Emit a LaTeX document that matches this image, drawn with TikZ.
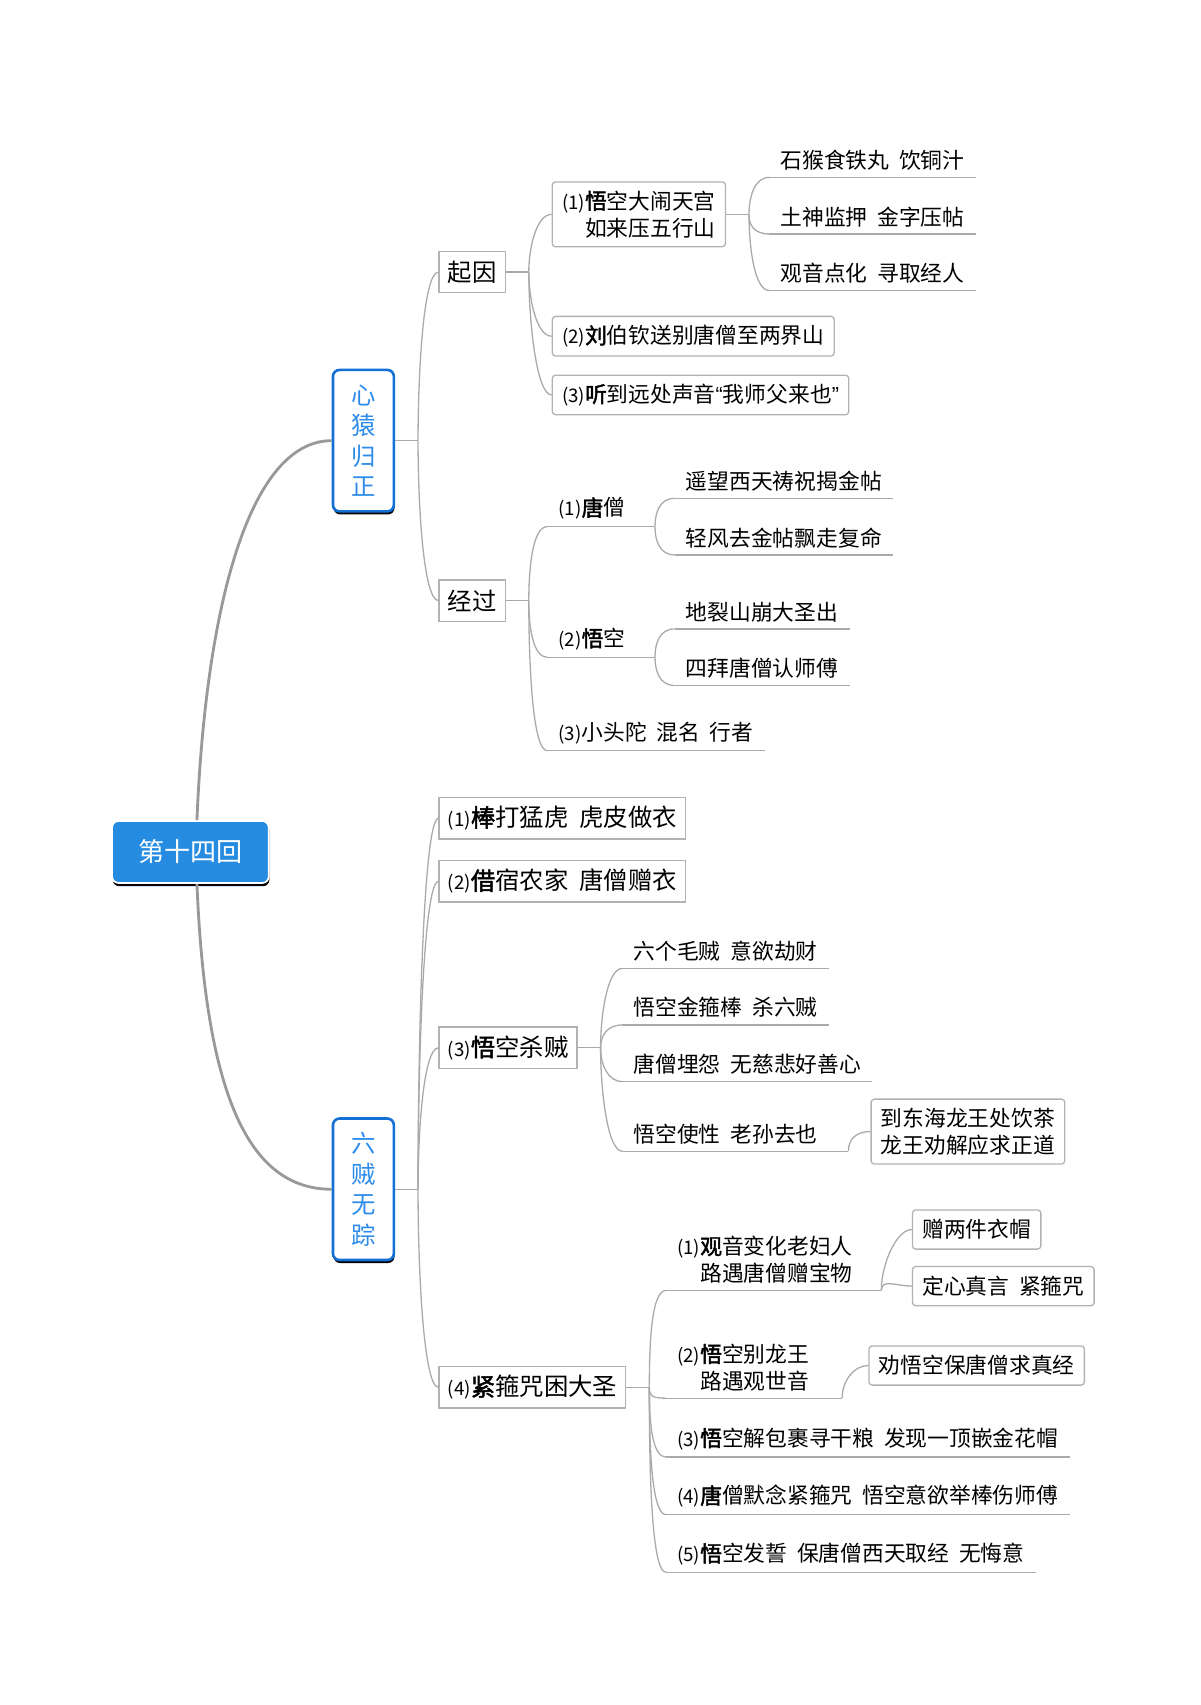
\documentclass[tikz,border=0pt]{standalone}
\usepackage{fontspec}
\setmainfont{Noto Sans CJK SC}[WordSpace=2]
\newfontfamily\latq{Liberation Sans}
\usepackage{tikz}
\usetikzlibrary{shadows}
\definecolor{rootblue}{RGB}{38,140,226}
\definecolor{mainblue}{RGB}{20,112,212}
\definecolor{txtblue}{RGB}{45,140,235}
\definecolor{linegray}{RGB}{170,170,170}
\newcommand{\nr}[1]{{\fontsize{8.6}{10}\selectfont(#1)}}
\newcommand{\bz}[1]{{\addfontfeatures{FakeBold=2}#1}}

\begin{document}
\begin{tikzpicture}[x=0.5pt,y=-0.5pt,
  conn/.style={draw=linegray,line width=0.6pt},
  brup/.style={conn,out=90,in=180,in distance=7pt},
  brdn/.style={conn,out=-90,in=180,in distance=7pt},
  trunk/.style={draw=black!40,line width=1.3pt},
  rootbox/.style={fill=rootblue,draw=white,line width=0.8pt,rounded corners=3pt,text=white,
    minimum width=72pt,minimum height=28.5pt,font=\fontsize{12}{14}\selectfont,
    drop shadow={shadow xshift=0.3pt,shadow yshift=-1.5pt,fill=black,opacity=1}},
  mainbox/.style={draw=mainblue,fill=white,line width=1.2pt,rounded corners=3pt,text=txtblue,
    minimum width=28pt,minimum height=65pt,align=center,font=\fontsize{11.2}{14}\selectfont,
    drop shadow={shadow xshift=0.3pt,shadow yshift=-1.4pt,fill=black,opacity=1}},
  topic/.style={draw=black!30,line width=0.6pt,anchor=west,minimum height=19pt,inner xsep=4pt,
    font=\fontsize{11.2}{13}\selectfont},
  item/.style={draw=black!30,line width=0.6pt,rounded corners=1.5pt,anchor=west,minimum height=18pt,
    inner xsep=4.5pt,inner ysep=4pt,font=\fontsize{10}{12.5}\selectfont},
  leaf/.style={anchor=south west,inner xsep=5pt,inner ysep=3pt,font=\fontsize{10}{12.5}\selectfont},
]
\useasboundingbox (0,0) rectangle (1103,1567);

% main topics
\node[rootbox] (root) at (175,783) {第十四回};
\node[mainbox] (xy) at (334,405) {心\\猿\\归\\正};
\node[mainbox] (lz) at (334,1093) {六\\贼\\无\\踪};

% 心猿归正
\node[topic] (qy) at (403,250) {起因};
\node[topic] (jg) at (403,552) {经过};

\node[item,align=right] (a1) at (507,197) {\nr{1}\bz{悟}空大闹天宫\\如来压五行山};
\node[item] (a2) at (507,309) {\nr{2}\bz{刘}伯钦送别唐僧至两界山};
\node[item] (a3) at (507,363) {\nr{3}\bz{听}到远处声音{\latq “}我师父来也{\latq ”}};
\node[leaf] (l1) at (707,163) {石猴食铁丸 饮铜汁};
\node[leaf] (l2) at (707,215) {土神监押 金字压帖};
\node[leaf] (l3) at (707,267) {观音点化 寻取经人};

\node[leaf] (b1) at (503,484) {\nr{1}\bz{唐}僧};
\node[leaf] (b11) at (620,458) {遥望西天祷祝揭金帖};
\node[leaf] (b12) at (620,510) {轻风去金帖飘走复命};
\node[leaf] (b2) at (503,604) {\nr{2}\bz{悟}空};
\node[leaf] (b21) at (620,578) {地裂山崩大圣出};
\node[leaf] (b22) at (620,630) {四拜唐僧认师傅};
\node[leaf] (b3) at (503,690) {\nr{3}小头陀 混名 行者};

% 六贼无踪
\node[topic] (c1) at (403,752) {\nr{1}\bz{棒}打猛虎 虎皮做衣};
\node[topic] (c2) at (403,810) {\nr{2}\bz{借}宿农家 唐僧赠衣};
\node[topic] (c3) at (403,963) {\nr{3}\bz{悟}空杀贼};
\node[topic] (c4) at (403,1275) {\nr{4}\bz{紧}箍咒困大圣};

\node[leaf] (c31) at (572,890) {六个毛贼 意欲劫财};
\node[leaf] (c32) at (572,942) {悟空金箍棒 杀六贼};
\node[leaf] (c33) at (572,994) {唐僧埋怨 无慈悲好善心};
\node[leaf] (c34) at (572,1058) {悟空使性 老孙去也};
\node[item,align=left] (c341) at (800,1040) {到东海龙王处饮茶\\龙王劝解应求正道};

\node[leaf,align=right] (d1) at (612,1186) {\nr{1}\bz{观}音变化老妇人\\路遇唐僧赠宝物};
\node[item] (d11) at (838,1130) {赠两件衣帽};
\node[item] (d12) at (838,1182) {定心真言 紧箍咒};
\node[leaf,align=right] (d2) at (612,1285) {\nr{2}\bz{悟}空别龙王\\路遇观世音};
\node[item] (d21) at (798,1255) {劝悟空保唐僧求真经};
\node[leaf] (d3) at (612,1339) {\nr{3}\bz{悟}空解包裹寻干粮 发现一顶嵌金花帽};
\node[leaf] (d4) at (612,1392) {\nr{4}\bz{唐}僧默念紧箍咒 悟空意欲举棒伤师傅};
\node[leaf] (d5) at (612,1445) {\nr{5}\bz{悟}空发誓 保唐僧西天取经 无悔意};

% underlines
\foreach \n in {l1,l2,l3,b11,b12,b21,b22,b3,c31,c32,c33,d3,d4,d5}
  \draw[conn] (\n.south west) -- (\n.south east);

% connectors
\draw[trunk] ([xshift=3pt]root.north) .. controls +(8,-195) and +(-76,0) .. (xy.west);
\draw[trunk] ([xshift=3pt]root.south) .. controls +(8,195) and +(-76,0) .. (lz.west);

\draw[conn] (xy.east) -- ++(21,0) coordinate (j1);
\draw[brup] (j1) to (qy.west);
\draw[brdn] (j1) to (jg.west);

\draw[conn] (qy.east) -- ++(21,0) coordinate (j2);
\draw[brup] (j2) to (a1.west);
\draw[brdn] (j2) to (a2.west);
\draw[brdn] (j2) to (a3.west);

\draw[conn] (a1.east) -- ++(21,0) coordinate (j3);
\draw[brup] (j3) to (l1.south west);
\draw[brdn] (j3) to (l2.south west);
\draw[brdn] (j3) to (l3.south west);

\draw[conn] (jg.east) -- ++(21,0) coordinate (j4);
\draw[brup] (j4) to (b1.south west);
\draw[brdn] (j4) to (b2.south west);
\draw[brdn] (j4) to (b3.south west);

\draw[conn] (b1.south west) -- (b1.south east) -- ++(17,0) coordinate (j5);
\draw[brup] (j5) to (b11.south west);
\draw[brdn] (j5) to (b12.south west);
\draw[conn] (b2.south west) -- (b2.south east) -- ++(17,0) coordinate (j6);
\draw[brup] (j6) to (b21.south west);
\draw[brdn] (j6) to (b22.south west);

\draw[conn] (lz.east) -- ++(21,0) coordinate (j7);
\foreach \n in {c1,c2,c3}
  \draw[brup] (j7) to (\n.west);
\draw[brdn] (j7) to (c4.west);

\draw[conn] (c3.east) -- ++(21,0) coordinate (j8);
\draw[brup] (j8) to (c31.south west);
\draw[brup] (j8) to (c32.south west);
\draw[brdn] (j8) to (c33.south west);
\draw[brdn] (j8) to (c34.south west);
\draw[conn] (c34.south west) -- (c34.south east) -- ++(18,0) coordinate (j9);
\draw[brup] (j9) to (c341.west);

\draw[conn] (c4.east) -- ++(21,0) coordinate (j10);
\draw[brup] (j10) to (d1.south west);
\foreach \n in {d2,d3,d4,d5}
  \draw[brdn] (j10) to (\n.south west);
\draw[conn] (d1.south west) -- (d1.south east) -- ++(16,0) coordinate (j11);
\draw[brup] (j11) to (d11.west);
\draw[brup] (j11) to (d12.west);
\draw[conn] (d2.south west) -- (d2.south east) -- ++(20,0) coordinate (j12);
\draw[brup] (j12) to (d21.west);
\end{tikzpicture}
\end{document}
